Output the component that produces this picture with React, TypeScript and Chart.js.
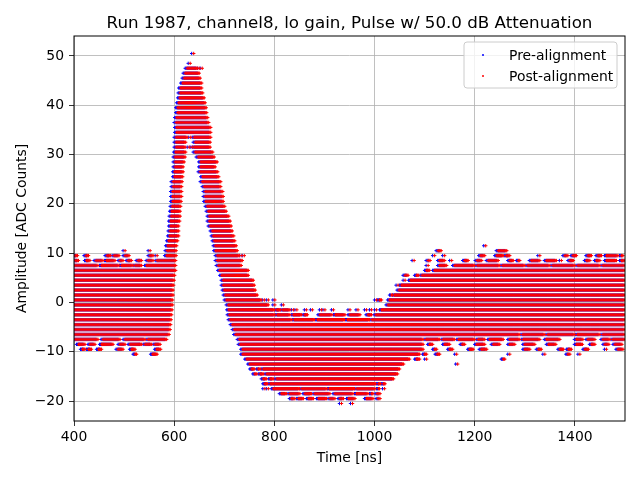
import React, { useEffect, useRef } from "react";
import { Chart, registerables } from "chart.js";

Chart.register(...registerables);

// ---------- text ----------
const TITLE = "Run 1987, channel8, lo gain, Pulse w/ 50.0 dB Attenuation";
const X_LABEL = "Time [ns]";
const Y_LABEL = "Amplitude [ADC Counts]";
const SERIES_LABELS = ["Pre-alignment", "Post-alignment"];
const SERIES_COLORS = ["#0000ff", "#ff0000"];

// ---------- axes ----------
const X_RANGE = [400, 1500];
const X_TICKS = [400, 600, 800, 1000, 1200, 1400];
const Y_TICKS = [-20, -10, 0, 10, 20, 30, 40, 50];

// samples along a row of the post-alignment trace are every SAMPLE_NS
const SAMPLE_NS = 2;
// pre-alignment samples sit this many ns earlier than the post-alignment ones
const PRE_SHIFT_NS = -4;

type Run = [number, number, number]; // [amplitude level, first time ns, last time ns]

// baseline before the pulse
const baselineRuns: Run[] = [
  [6.5, 400, 603], [5.5, 400, 601], [4.5, 400, 600], [3.5, 400, 599], [2.5, 400, 598],
  [1.5, 400, 598], [0.5, 400, 597], [-0.5, 400, 597], [-1.5, 400, 596], [-2.5, 400, 595],
  [-3.5, 400, 594], [-4.5, 400, 593], [-5.5, 400, 592], [-6.5, 400, 590],
  [7.5, 400, 448], [7.5, 455, 490], [7.5, 495, 518], [7.5, 522, 535], [7.5, 545, 603],
  [8.5, 402, 409], [8.5, 425, 432], [8.5, 444, 458], [8.5, 465, 482], [8.5, 492, 498],
  [8.5, 508, 515], [8.5, 528, 535], [8.5, 548, 558], [8.5, 566, 603],
  [9.5, 402, 407], [9.5, 424, 429], [9.5, 466, 473], [9.5, 480, 490], [9.5, 502, 510],
  [9.5, 552, 558], [9.5, 566, 566], [9.5, 585, 604],
  [10.5, 502, 502], [10.5, 552, 552], [10.5, 586, 604],
  [-7.5, 402, 448], [-7.5, 458, 492], [-7.5, 502, 542], [-7.5, 548, 585],
  [-8.5, 409, 422], [-8.5, 432, 442], [-8.5, 455, 478], [-8.5, 492, 502], [-8.5, 512, 535],
  [-8.5, 542, 555], [-8.5, 562, 572],
  [-9.5, 417, 422], [-9.5, 429, 435], [-9.5, 449, 455], [-9.5, 488, 498], [-9.5, 515, 522],
  [-9.5, 565, 573],
  [-10.5, 522, 525], [-10.5, 557, 566],
];

// rising edge of the pulse
const risingRuns: Run[] = [
  [11.5, 587, 605], [12.5, 589, 607], [13.5, 591, 609], [14.5, 592, 609], [15.5, 593, 609],
  [16.5, 593, 611], [17.5, 594, 612], [18.5, 595, 612], [19.5, 596, 613], [20.5, 597, 614],
  [21.5, 597, 615], [22.5, 597, 615], [23.5, 598, 615], [24.5, 598, 616], [25.5, 601, 617],
  [26.5, 601, 618], [27.5, 602, 618], [28.5, 602, 620], [29.5, 602, 622], [30.5, 603, 623],
  [31.5, 604, 622], [32.5, 604, 623], [33.5, 604, 626],
];

// top of the pulse
const peakRuns: Run[] = [
  [34.5, 605, 673], [35.5, 605, 673], [36.5, 604, 669], [37.5, 605, 667], [38.5, 607, 665],
  [39.5, 607, 664], [40.5, 609, 662], [41.5, 611, 660], [42.5, 612, 657], [43.5, 613, 655],
  [44.5, 617, 655], [45.5, 620, 652], [46.5, 622, 650], [47.5, 626, 647], [47.5, 651, 651],
  [47.5, 656, 656], [48.5, 632, 632], [50.5, 639, 639],
  [31.5, 630, 630], [31.5, 636, 636], [33.5, 633, 633],
];

// falling edge of the pulse
const fallingRuns: Run[] = [
  [33.5, 640, 673], [32.5, 642, 672], [31.5, 640, 672], [30.5, 642, 677], [29.5, 648, 680],
  [28.5, 653, 686], [27.5, 653, 682], [26.5, 652, 687], [25.5, 657, 689], [24.5, 656, 693],
  [23.5, 660, 693], [22.5, 662, 697], [21.5, 662, 698], [20.5, 663, 698], [19.5, 666, 701],
  [18.5, 668, 704], [17.5, 670, 709], [16.5, 670, 712], [15.5, 672, 714], [14.5, 676, 716],
  [13.5, 678, 719], [12.5, 680, 721], [11.5, 682, 724], [10.5, 683, 726], [9.5, 686, 730],
  [9.5, 735, 735], [9.5, 740, 740], [8.5, 686, 736], [7.5, 688, 734], [6.5, 691, 748],
  [5.5, 695, 748], [4.5, 698, 758], [3.5, 698, 760], [2.5, 700, 762], [1.5, 702, 766],
  [0.5, 704, 774], [0.5, 780, 780], [0.5, 788, 788], [0.5, 801, 801],
  [-0.5, 708, 788], [-0.5, 801, 801], [-0.5, 818, 818],
];

// undershoot after the pulse
const undershootRuns: Run[] = [
  [-1.5, 709, 800], [-1.5, 805, 812], [-1.5, 817, 831], [-1.5, 838, 838], [-1.5, 845, 845],
  [-1.5, 864, 864], [-1.5, 876, 876], [-1.5, 894, 894], [-1.5, 901, 901], [-1.5, 918, 918],
  [-1.5, 951, 951], [-1.5, 967, 967], [-1.5, 984, 984], [-1.5, 994, 994], [-1.5, 1004, 1004],
  [-1.5, 1014, 1500],
  [-2.5, 710, 801], [-2.5, 806, 831], [-2.5, 838, 854], [-2.5, 861, 866], [-2.5, 891, 915],
  [-2.5, 922, 941], [-2.5, 951, 971], [-2.5, 987, 994], [-2.5, 1003, 1500],
  [-3.5, 712, 835], [-3.5, 840, 880], [-3.5, 886, 940], [-3.5, 946, 990], [-3.5, 995, 1500],
  [-4.5, 716, 1500],
  [-5.5, 720, 1500],
  [-6.5, 723, 1290], [-6.5, 1296, 1340], [-6.5, 1346, 1400], [-6.5, 1405, 1450], [-6.5, 1456, 1500],
  [-7.5, 730, 1097], [-7.5, 1103, 1130], [-7.5, 1137, 1160], [-7.5, 1168, 1200], [-7.5, 1207, 1220],
  [-7.5, 1230, 1257], [-7.5, 1270, 1290], [-7.5, 1297, 1330], [-7.5, 1343, 1370], [-7.5, 1403, 1416],
  [-7.5, 1426, 1440], [-7.5, 1456, 1470], [-7.5, 1476, 1500],
  [-8.5, 732, 1097], [-8.5, 1110, 1116], [-8.5, 1140, 1150], [-8.5, 1175, 1180], [-8.5, 1204, 1220],
  [-8.5, 1237, 1250], [-8.5, 1270, 1280], [-8.5, 1300, 1320], [-8.5, 1347, 1362], [-8.5, 1403, 1415],
  [-8.5, 1433, 1440], [-8.5, 1460, 1468], [-8.5, 1480, 1494],
  [-9.5, 737, 1097], [-9.5, 1120, 1124], [-9.5, 1150, 1156], [-9.5, 1190, 1197], [-9.5, 1213, 1224],
  [-9.5, 1300, 1310], [-9.5, 1327, 1333], [-9.5, 1370, 1377], [-9.5, 1387, 1393], [-9.5, 1420, 1427],
  [-9.5, 1463, 1463], [-9.5, 1486, 1496],
  [-10.5, 737, 1090], [-10.5, 1100, 1104], [-10.5, 1125, 1130], [-10.5, 1164, 1164], [-10.5, 1270, 1270],
  [-10.5, 1340, 1340], [-10.5, 1386, 1390], [-10.5, 1410, 1410],
  [-11.5, 745, 1070], [-11.5, 1084, 1090], [-11.5, 1104, 1104], [-11.5, 1257, 1260],
  [-12.5, 751, 1058], [-12.5, 1166, 1166],
  [-13.5, 755, 760], [-13.5, 768, 772], [-13.5, 778, 1050],
  [-14.5, 761, 765], [-14.5, 772, 778], [-14.5, 785, 1046],
  [-15.5, 778, 784], [-15.5, 792, 798], [-15.5, 805, 1038],
  [-16.5, 781, 786], [-16.5, 792, 798], [-16.5, 801, 1002], [-16.5, 1008, 1012], [-16.5, 1018, 1021],
  [-17.5, 781, 781], [-17.5, 788, 788], [-17.5, 798, 850], [-17.5, 855, 905], [-17.5, 910, 960],
  [-17.5, 965, 1001], [-17.5, 1008, 1010], [-17.5, 1020, 1020],
  [-18.5, 814, 824], [-18.5, 831, 851], [-18.5, 861, 874], [-18.5, 881, 911], [-18.5, 921, 957],
  [-18.5, 964, 987], [-18.5, 994, 997], [-18.5, 1005, 1011],
  [-19.5, 834, 841], [-19.5, 848, 858], [-19.5, 868, 878], [-19.5, 888, 904], [-19.5, 911, 921],
  [-19.5, 931, 938], [-19.5, 948, 961], [-19.5, 984, 997], [-19.5, 1007, 1011],
  [-20.5, 934, 934], [-20.5, 956, 956],
];

// recovery and baseline after the undershoot
const recoveryRuns: Run[] = [
  [-0.5, 1027, 1500],
  [0.5, 1004, 1004], [0.5, 1010, 1014], [0.5, 1030, 1500],
  [1.5, 1034, 1036], [1.5, 1040, 1500],
  [2.5, 1049, 1500],
  [3.5, 1047, 1047], [3.5, 1054, 1500],
  [4.5, 1061, 1061], [4.5, 1072, 1500],
  [5.5, 1061, 1067], [5.5, 1084, 1088], [5.5, 1095, 1500],
  [6.5, 1104, 1110], [6.5, 1120, 1500],
  [7.5, 1107, 1107], [7.5, 1130, 1144], [7.5, 1160, 1200], [7.5, 1205, 1250], [7.5, 1256, 1300],
  [7.5, 1306, 1350], [7.5, 1356, 1400], [7.5, 1406, 1450], [7.5, 1456, 1500],
  [8.5, 1079, 1079], [8.5, 1107, 1111], [8.5, 1130, 1140], [8.5, 1154, 1154], [8.5, 1180, 1187],
  [8.5, 1205, 1214], [8.5, 1227, 1247], [8.5, 1270, 1277], [8.5, 1287, 1290], [8.5, 1313, 1330],
  [8.5, 1343, 1363], [8.5, 1373, 1373], [8.5, 1390, 1397], [8.5, 1423, 1430], [8.5, 1443, 1450],
  [8.5, 1463, 1483], [8.5, 1493, 1500],
  [9.5, 1120, 1120], [9.5, 1140, 1140], [9.5, 1212, 1220], [9.5, 1244, 1257], [9.5, 1263, 1270],
  [9.5, 1330, 1330], [9.5, 1380, 1386], [9.5, 1396, 1403], [9.5, 1426, 1433], [9.5, 1446, 1453],
  [9.5, 1463, 1486], [9.5, 1493, 1496],
  [10.5, 1127, 1133], [10.5, 1247, 1264],
  [11.5, 1222, 1222],
];

const POST_RUNS: Run[] = [
  ...baselineRuns,
  ...risingRuns,
  ...peakRuns,
  ...fallingRuns,
  ...undershootRuns,
  ...recoveryRuns,
];

function expandRuns(runs: Run[], shift: number) {
  const pts: { x: number; y: number }[] = [];
  for (const [level, start, end] of runs) {
    const n = Math.max(0, Math.round((end - start) / SAMPLE_NS));
    for (let i = 0; i <= n; i++) {
      const t = n === 0 ? start : start + ((end - start) * i) / n;
      pts.push({ x: t + shift, y: level });
    }
  }
  return pts;
}

const FONT = '"DejaVu Sans", "Liberation Sans", sans-serif';
const minus = (v: number) => (v < 0 ? "\u2212" + Math.abs(v) : String(v));

const decorations = {
  id: "decorations",
  afterDraw(chart: any) {
    const { ctx, chartArea: a } = chart;
    ctx.save();
    // frame
    ctx.strokeStyle = "#000";
    ctx.lineWidth = 1;
    ctx.strokeRect(a.left, a.top, a.right - a.left, a.bottom - a.top);
    ctx.fillStyle = "#000";
    ctx.textBaseline = "alphabetic";
    // title
    ctx.font = `16.7px ${FONT}`;
    ctx.textAlign = "center";
    ctx.fillText(TITLE, (a.left + a.right) / 2, a.top - 8.3);
    // axis labels
    ctx.font = `13.9px ${FONT}`;
    ctx.fillText(X_LABEL, (a.left + a.right) / 2, a.bottom + 41);
    ctx.save();
    ctx.translate(a.left - 48, (a.top + a.bottom) / 2);
    ctx.rotate(-Math.PI / 2);
    ctx.fillText(Y_LABEL, 0, 0);
    ctx.restore();
    // legend
    const w = 153, h = 46;
    const lx = a.right - 8 - w, ly = a.top + 6;
    ctx.beginPath();
    if ((ctx as any).roundRect) (ctx as any).roundRect(lx, ly, w, h, 3);
    else ctx.rect(lx, ly, w, h);
    ctx.fillStyle = "rgba(255,255,255,0.8)";
    ctx.fill();
    ctx.strokeStyle = "#cccccc";
    ctx.lineWidth = 1;
    ctx.stroke();
    ctx.textAlign = "left";
    ctx.font = `13.9px ${FONT}`;
    SERIES_LABELS.forEach((label, i) => {
      const cy = ly + 13 + i * 21;
      ctx.strokeStyle = SERIES_COLORS[i];
      ctx.lineWidth = 1;
      ctx.beginPath();
      ctx.moveTo(lx + 18, cy);
      ctx.lineTo(lx + 20, cy);
      ctx.moveTo(lx + 19, cy - 1);
      ctx.lineTo(lx + 19, cy + 1);
      ctx.stroke();
      ctx.fillStyle = "#000";
      ctx.fillText(label, lx + 45, cy + 4.5);
    });
    ctx.restore();
  },
};

export default function App() {
  const ref = useRef<HTMLCanvasElement | null>(null);

  useEffect(() => {
    document.body.style.margin = "0";
    const canvas = ref.current;
    if (!canvas) return;

    const post = expandRuns(POST_RUNS, 0);
    const pre = expandRuns(POST_RUNS, PRE_SHIFT_NS);
    const levels = POST_RUNS.map((r) => r[0]);
    const yLo = Math.min(...levels);
    const yHi = Math.max(...levels);
    const margin = (yHi - yLo) * 0.05;

    const gridCommon = {
      color: "#b0b0b0",
      lineWidth: 0.8,
      drawTicks: true,
      tickLength: 5,
      tickColor: "#000",
      tickWidth: 0.8,
    };

    const chart = new Chart(canvas, {
      type: "scatter",
      data: {
        datasets: [
          {
            label: SERIES_LABELS[1],
            data: post,
            pointStyle: "cross",
            pointRadius: 1.7,
            borderWidth: 1,
            borderColor: SERIES_COLORS[1],
            backgroundColor: SERIES_COLORS[1],
          },
          {
            label: SERIES_LABELS[0],
            data: pre,
            pointStyle: "cross",
            pointRadius: 1.7,
            borderWidth: 1,
            borderColor: SERIES_COLORS[0],
            backgroundColor: SERIES_COLORS[0],
          },
        ],
      },
      options: {
        animation: false,
        responsive: false,
        events: [],
        parsing: false,
        normalized: true,
        layout: { padding: { top: 36, right: 15, left: 0, bottom: 0 } },
        plugins: {
          legend: { display: false },
          tooltip: { enabled: false },
          title: { display: false },
        },
        scales: {
          x: {
            type: "linear",
            min: X_RANGE[0],
            max: X_RANGE[1],
            z: 1,
            grid: gridCommon,
            border: { display: false },
            ticks: {
              color: "#000",
              font: { family: FONT, size: 13.9 },
              padding: 3,
              maxRotation: 0,
              callback: (v: any) => minus(Number(v)),
            },
            afterBuildTicks: (scale: any) => {
              scale.ticks = X_TICKS.map((value) => ({ value }));
            },
            afterFit: (scale: any) => {
              scale.height = 59;
            },
          },
          y: {
            type: "linear",
            min: yLo - margin,
            max: yHi + margin,
            z: 1,
            grid: gridCommon,
            border: { display: false },
            ticks: {
              color: "#000",
              font: { family: FONT, size: 13.9 },
              padding: 5,
              callback: (v: any) => minus(Number(v)),
            },
            afterBuildTicks: (scale: any) => {
              scale.ticks = Y_TICKS.map((value) => ({ value }));
            },
            afterFit: (scale: any) => {
              scale.width = 74;
            },
          },
        },
      } as any,
      plugins: [decorations],
    });

    return () => chart.destroy();
  }, []);

  return (
    <canvas
      ref={ref}
      width={640}
      height={480}
      style={{ display: "block", width: 640, height: 480 }}
    />
  );
}
